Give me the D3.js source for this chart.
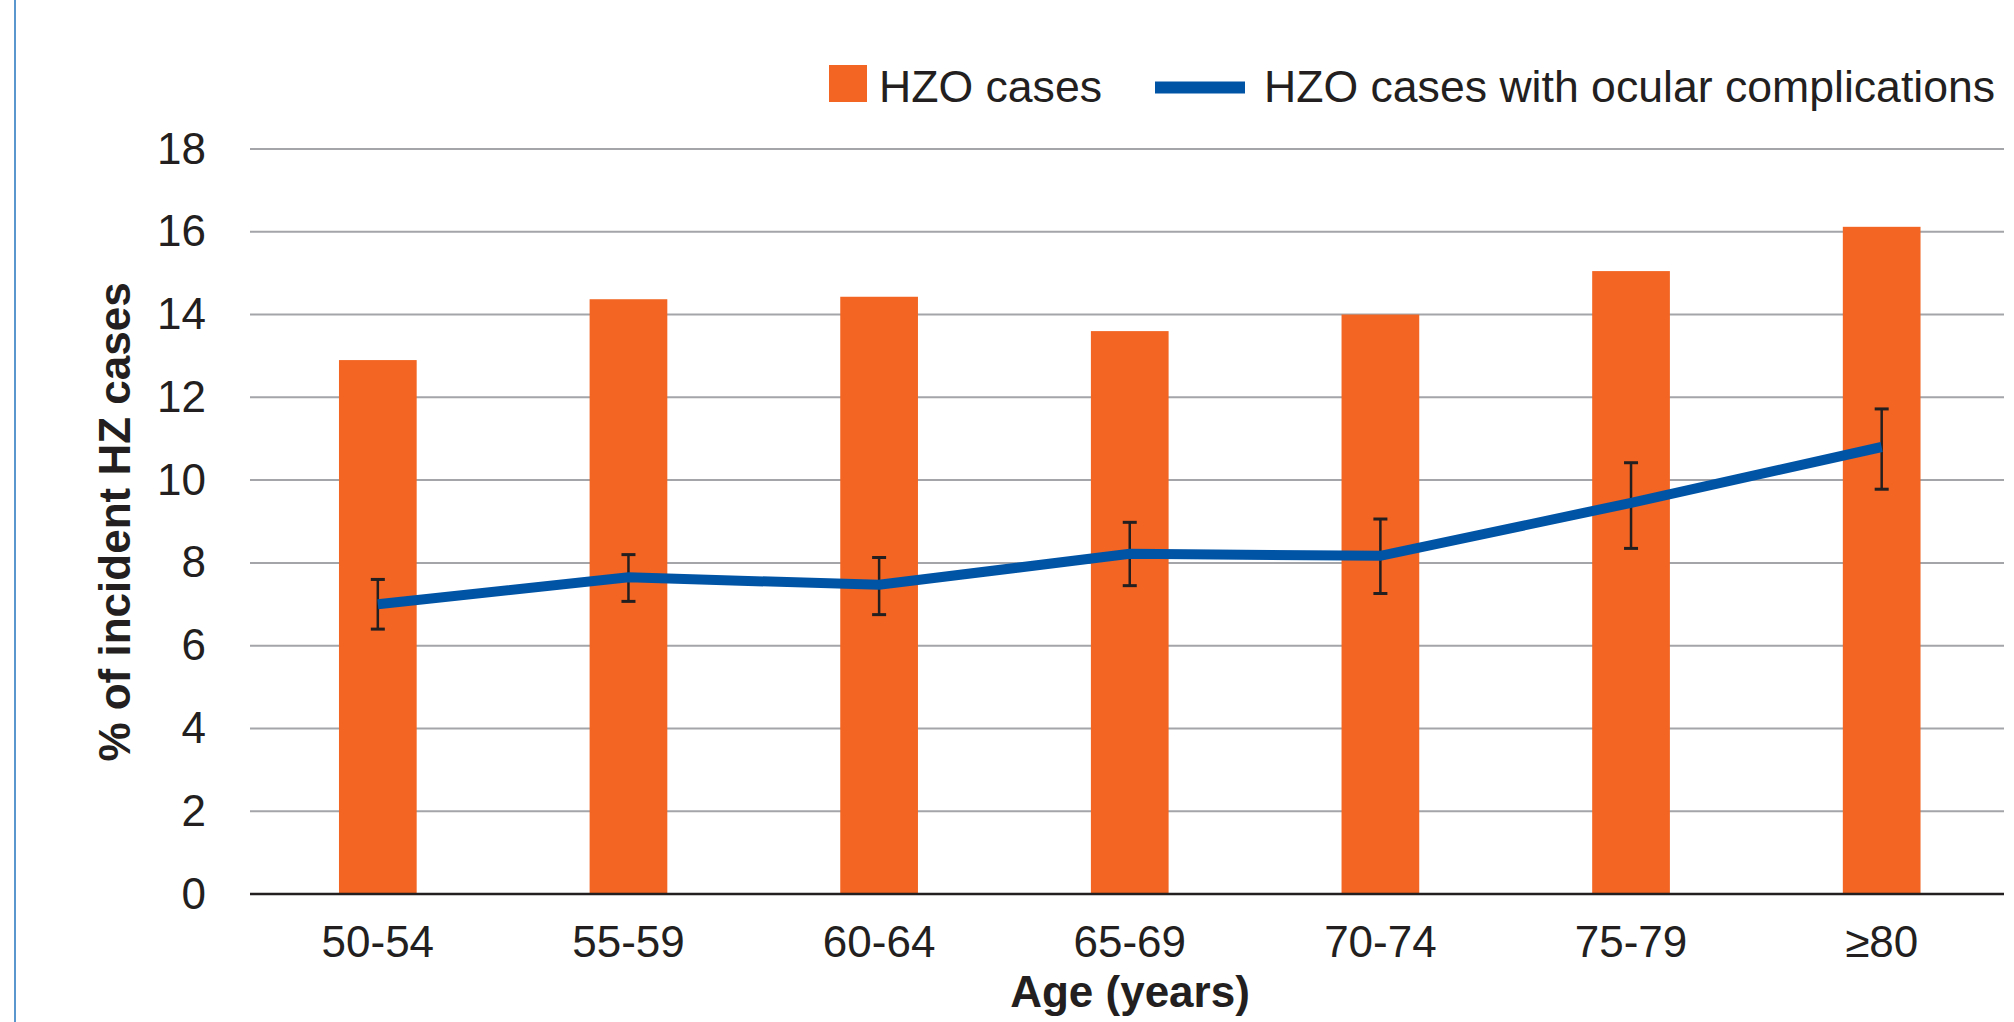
<!DOCTYPE html>
<html>
<head>
<meta charset="utf-8">
<script src="https://cdn.jsdelivr.net/npm/d3@7"></script>
<style>
  html, body { margin: 0; padding: 0; background: #ffffff; }
  svg { display: block; }
  text { font-family: "Liberation Sans", Arial, Helvetica, sans-serif; fill: #231f20; }
</style>
</head>
<body>
<svg id="chart" width="2014" height="1022"></svg>
<script>
// ---- Data ----
const categories = ["50-54", "55-59", "60-64", "65-69", "70-74", "75-79", "\u226580"];
const hzoCases = [12.9, 14.37, 14.43, 13.6, 14.0, 15.05, 16.12];
const ocularComplications = [7.0, 7.65, 7.47, 8.22, 8.17, 9.45, 10.8];
const ocularUpper = [7.6, 8.2, 8.13, 8.98, 9.06, 10.42, 11.72];
const ocularLower = [6.4, 7.07, 6.75, 7.45, 7.26, 8.35, 9.78];
const yTicks = [0, 2, 4, 6, 8, 10, 12, 14, 16, 18];
const seriesNames = ["HZO cases", "HZO cases with ocular complications"];
const xTitle = "Age (years)";
const yTitle = "% of incident HZ cases";

// ---- Layout ----
const svg = d3.select("#chart");
const W = 2014, H = 1022;
const plotLeft = 250, plotRight = 2004, plotTop = 149, plotBottom = 894;
const orange = "#f26522", blue = "#0054a6", ink = "#231f20", grid = "#a3a5a8";

// left frame line
svg.append("line")
  .attr("x1", 15).attr("x2", 15).attr("y1", 0).attr("y2", H)
  .attr("stroke", "#5b97cf").attr("stroke-width", 2);

const x = d3.scaleBand().domain(categories).range([plotLeft + 2.5, plotRight + 3])
  .paddingInner(0.69).paddingOuter(0.345);
const y = d3.scaleLinear().domain([0, 18]).range([plotBottom, plotTop]);

// gridlines
svg.append("g").selectAll("line").data(yTicks.filter(d => d !== 0)).join("line")
  .attr("x1", plotLeft).attr("x2", plotRight)
  .attr("y1", d => y(d)).attr("y2", d => y(d))
  .attr("stroke", grid).attr("stroke-width", 2);

// y tick labels
const yAxis = d3.axisLeft(y).tickValues(yTicks).tickSize(0).tickPadding(0);
const gy = svg.append("g").attr("transform", "translate(206,0)").call(yAxis);
gy.select(".domain").remove();
gy.selectAll("text").attr("font-size", 44).attr("fill", ink)
  .style("font-family", '"Liberation Sans", Arial, sans-serif');

// bars
svg.append("g").selectAll("rect").data(categories).join("rect")
  .attr("x", d => x(d)).attr("width", x.bandwidth())
  .attr("y", (d, i) => y(hzoCases[i]))
  .attr("height", (d, i) => y(0) - y(hzoCases[i]))
  .attr("fill", orange);

// x axis line
svg.append("line")
  .attr("x1", plotLeft).attr("x2", plotRight)
  .attr("y1", y(0)).attr("y2", y(0))
  .attr("stroke", ink).attr("stroke-width", 2.5);

// x tick labels
const xAxis = d3.axisBottom(x).tickSize(0).tickPadding(0);
const gx = svg.append("g").attr("transform", `translate(0,${plotBottom})`).call(xAxis);
gx.select(".domain").remove();
gx.selectAll("text").attr("font-size", 44).attr("fill", ink).attr("dy", null)
  .attr("y", 63)
  .style("font-family", '"Liberation Sans", Arial, sans-serif');

// error bars
const cx = d => x(d) + x.bandwidth() / 2;
const eb = svg.append("g").attr("stroke", ink);
eb.selectAll("line.v").data(categories).join("line").attr("class", "v")
  .attr("x1", cx).attr("x2", cx)
  .attr("y1", (d, i) => y(ocularUpper[i])).attr("y2", (d, i) => y(ocularLower[i]))
  .attr("stroke-width", 2.5);
eb.selectAll("line.t").data(categories).join("line").attr("class", "t")
  .attr("x1", d => cx(d) - 7).attr("x2", d => cx(d) + 7)
  .attr("y1", (d, i) => y(ocularUpper[i])).attr("y2", (d, i) => y(ocularUpper[i]))
  .attr("stroke-width", 3);
eb.selectAll("line.b").data(categories).join("line").attr("class", "b")
  .attr("x1", d => cx(d) - 7).attr("x2", d => cx(d) + 7)
  .attr("y1", (d, i) => y(ocularLower[i])).attr("y2", (d, i) => y(ocularLower[i]))
  .attr("stroke-width", 3);

// line
const line = d3.line().x((d, i) => cx(categories[i])).y(d => y(d));
svg.append("path").datum(ocularComplications)
  .attr("d", line).attr("fill", "none")
  .attr("stroke", blue).attr("stroke-width", 10).attr("stroke-linejoin", "miter");

// axis titles
svg.append("text").attr("x", 1130).attr("y", 1007)
  .attr("text-anchor", "middle").attr("font-size", 44).attr("font-weight", "bold")
  .text(xTitle);
svg.append("text").attr("transform", "translate(130,522) rotate(-90)")
  .attr("text-anchor", "middle").attr("font-size", 44).attr("font-weight", "bold")
  .text(yTitle);

// legend
const lg = svg.append("g");
lg.append("rect").attr("x", 829).attr("y", 65).attr("width", 38).attr("height", 37).attr("fill", orange);
lg.append("text").attr("x", 879).attr("y", 101.5).attr("font-size", 44.6).text(seriesNames[0]);
lg.append("line").attr("x1", 1155).attr("x2", 1245).attr("y1", 87.5).attr("y2", 87.5)
  .attr("stroke", blue).attr("stroke-width", 12);
lg.append("text").attr("x", 1264).attr("y", 101.5).attr("font-size", 44.6).text(seriesNames[1]);
</script>
</body>
</html>
